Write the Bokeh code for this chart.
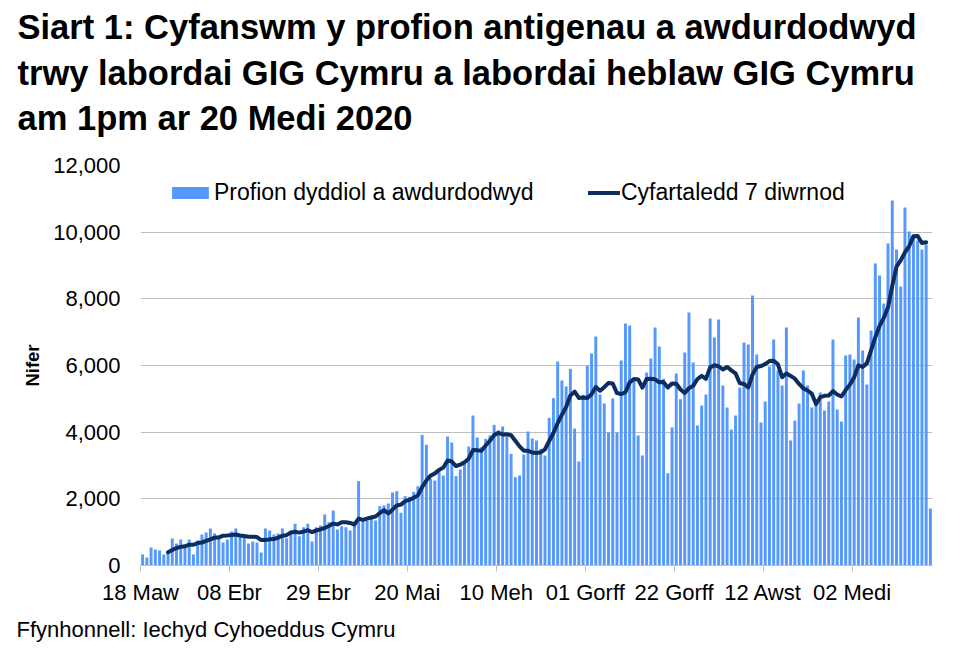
import math
import pandas as pd
from bokeh.plotting import figure
from bokeh.models import (Range1d, FixedTicker, NumeralTickFormatter, Legend,
                          LegendItem, Title, ColumnDataSource)
from bokeh.embed import file_html
from bokeh.resources import INLINE

# ---------------- data ----------------
title_lines = [
    "Siart 1: Cyfanswm y profion antigenau a awdurdodwyd",
    "trwy labordai GIG Cymru a labordai heblaw GIG Cymru",
    "am 1pm ar 20 Medi 2020",
]
source_text = "Ffynhonnell: Iechyd Cyhoeddus Cymru"
y_label = "Nifer"
bar_name = "Profion dyddiol a awdurdodwyd"
line_name = "Cyfartaledd 7 diwrnod"
start_date = "2020-03-18"

tick_days = [0, 21, 42, 63, 84, 105, 126, 147, 168]
tick_labels = ["18 Maw", "08 Ebr", "29 Ebr", "20 Mai", "10 Meh",
               "01 Gorff", "22 Gorff", "12 Awst", "02 Medi"]
y_ticks = [0, 2000, 4000, 6000, 8000, 10000, 12000]

daily_tests = [
    330, 240, 540, 480, 450, 330, 400, 810, 660, 780,
    600, 780, 330, 750, 930, 990, 1110, 960, 840, 690,
    780, 1020, 1110, 900, 870, 660, 720, 690, 390, 1110,
    1050, 930, 960, 1110, 820, 950, 1250, 880, 1150, 1250,
    720, 1150, 1200, 1530, 1300, 1650, 1080, 1180, 1150, 1050,
    1200, 2530, 1400, 1350, 1400, 1350, 1780, 1800, 1860, 2190,
    2230, 1580, 2080, 2060, 2210, 2380, 3920, 3620, 2600, 2550,
    2800, 2700, 3870, 3690, 2680, 2880, 3050, 3570, 4500, 3840,
    3550, 3800, 3900, 4220, 4050, 4170, 3870, 3350, 2650, 2700,
    3330, 4020, 3810, 3750, 3500, 3300, 4430, 5020, 6120, 5550,
    5370, 5900, 4110, 3120, 5120, 5990, 6360, 6870, 5130, 4860,
    3990, 5010, 3990, 6150, 7260, 7200, 5570, 3900, 3300, 5790,
    6210, 7140, 6570, 5600, 2770, 4140, 5760, 4990, 6390, 7590,
    6090, 4200, 4800, 5130, 7410, 6840, 7380, 5400, 4740, 4080,
    4500, 5340, 6690, 6630, 8100, 6330, 4290, 4920, 5970, 6780,
    5850, 5400, 7140, 3750, 4350, 4860, 5850, 5400, 4740, 4950,
    5190, 4650, 4920, 6780, 4680, 4320, 6300, 6330, 6180, 7440,
    6450, 5430, 7050, 9060, 8700, 7860, 9660, 10950, 9480, 8370,
    10740, 10020, 9900, 9750, 9480, 9630, 1710,
]

# ---------------- derived ----------------
n_days = len(daily_tests)
dates = pd.date_range(start_date, periods=n_days, freq="D")
day_centre = [i + 0.5 for i in range(n_days)]
# 7-day trailing average; the last (partial) day is not part of the line
avg7 = pd.Series(daily_tests, dtype=float).rolling(7).mean()
avg7.iloc[-1] = float("nan")

bar_src = ColumnDataSource(dict(x=day_centre, y=daily_tests, date=dates))
line_src = ColumnDataSource(dict(x=day_centre, y=avg7.tolist()))

FONT = "Liberation Sans"
BAR_COLOR = "#5599ff"
LINE_COLOR = "#0c2d5e"
GRID_COLOR = "#bfbfbf"

p = figure(width=945, height=648, output_backend="svg", toolbar_location=None,
           x_range=Range1d(0, n_days), y_range=Range1d(y_ticks[0], y_ticks[-1]),
           min_border_left=140, min_border_right=13,
           min_border_top=165, min_border_bottom=82)

# spacer between the frame and the title (first added = nearest the frame)
spacer = Title(text=" ", text_font_size="1px", standoff=25)
p.add_layout(spacer, "above")
main_title = Title(text="\n".join(title_lines), align="left", offset=-123,
                   vertical_align="bottom", standoff=0,
                   text_font=FONT, text_font_size="34.5px",
                   text_font_style="bold", text_color="#000000",
                   text_line_height=1.21)
p.add_layout(main_title, "above")

src_title = Title(text=source_text, align="left", offset=-124,
                  text_font=FONT, text_font_size="22px",
                  text_font_style="normal", text_color="#000000", standoff=14)
p.add_layout(src_title, "below")

bars = p.vbar(x="x", top="y", width=0.7, source=bar_src,
              fill_color=BAR_COLOR, line_color=None)
line = p.line(x="x", y="y", source=line_src, line_color=LINE_COLOR,
              line_width=4, line_join="round", line_cap="round")

p.outline_line_color = None
p.background_fill_color = "white"
p.border_fill_color = "white"

# grids
p.xgrid.grid_line_color = None
p.ygrid.grid_line_color = GRID_COLOR
p.ygrid.grid_line_width = 1

# x axis
xa = p.xaxis[0]
xa.ticker = FixedTicker(ticks=tick_days)
xa.major_label_overrides = {d: l for d, l in zip(tick_days, tick_labels)}
xa.major_label_text_font = FONT
xa.major_label_text_font_size = "22px"
xa.major_label_text_color = "#000000"
xa.axis_line_color = GRID_COLOR
xa.major_tick_line_color = GRID_COLOR
xa.major_tick_in = 0
xa.major_tick_out = 6
xa.minor_tick_line_color = None
xa.minor_tick_out = 0
xa.minor_tick_in = 0
xa.major_label_standoff = 8

# y axis
ya = p.yaxis[0]
ya.ticker = FixedTicker(ticks=y_ticks)
ya.formatter = NumeralTickFormatter(format="0,0")
ya.major_label_text_font = FONT
ya.major_label_text_font_size = "22px"
ya.major_label_text_color = "#000000"
ya.axis_line_color = None
ya.major_tick_line_color = None
ya.major_tick_out = 0
ya.major_tick_in = 0
ya.minor_tick_line_color = None
ya.minor_tick_out = 0
ya.minor_tick_in = 0
ya.major_label_standoff = 20
ya.axis_label = y_label
ya.axis_label_text_font = FONT
ya.axis_label_text_font_size = "18.5px"
ya.axis_label_text_font_style = "bold"
ya.axis_label_text_color = "#000000"
ya.axis_label_standoff = 7

common = dict(orientation="horizontal", label_text_font=FONT,
              label_text_font_size="23px", label_text_color="#000000",
              padding=0, margin=0, border_line_alpha=0,
              background_fill_alpha=0)
legend_bar = Legend(items=[LegendItem(label=bar_name, renderers=[bars])],
                    location=(27, 359), glyph_width=46, glyph_height=15,
                    label_standoff=1, **common)
legend_line = Legend(items=[LegendItem(label=line_name, renderers=[line])],
                     location=(448, 359), glyph_width=32, glyph_height=15,
                     label_standoff=1, **common)
p.add_layout(legend_bar)
p.add_layout(legend_line)

open("out.html", "w").write(file_html(p, INLINE))
